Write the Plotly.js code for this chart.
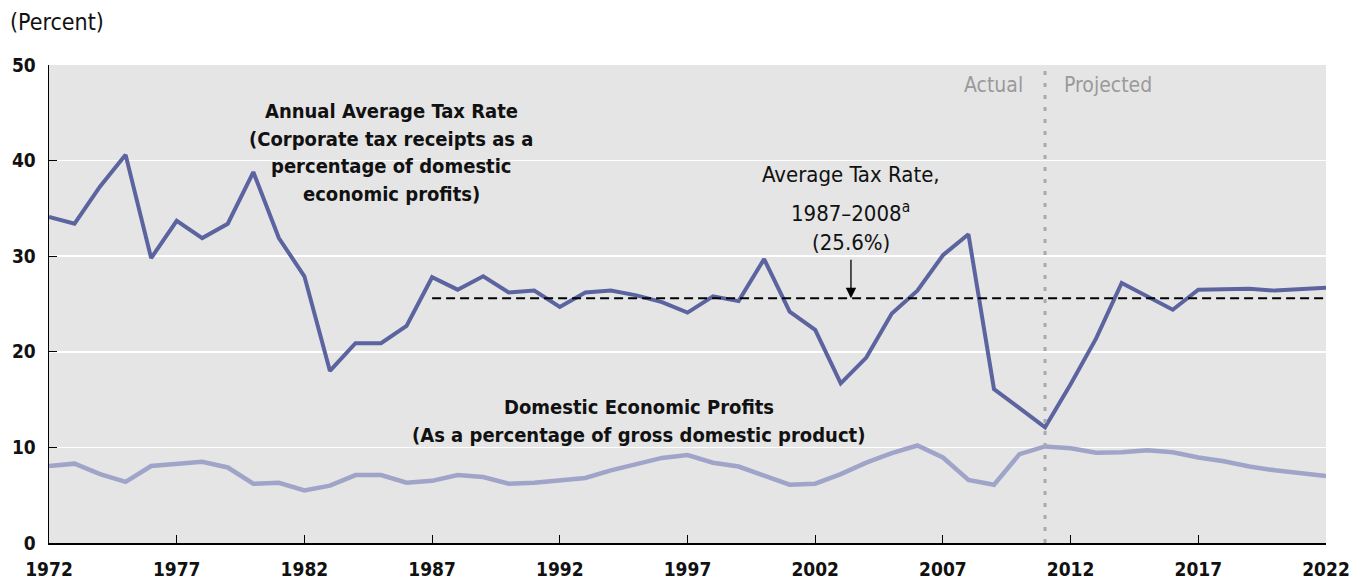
<!DOCTYPE html>
<html>
<head>
<meta charset="utf-8">
<script src="https://cdn.plot.ly/plotly-3.0.1.min.js"></script>
<style>html,body{margin:0;padding:0;background:#fff;}#chart{width:1362px;height:582px;}</style>
</head>
<body>
<div id="chart"></div>
<script>
const years = [1972,1973,1974,1975,1976,1977,1978,1979,1980,1981,1982,1983,1984,1985,1986,1987,1988,1989,1990,1991,1992,1993,1994,1995,1996,1997,1998,1999,2000,2001,2002,2003,2004,2005,2006,2007,2008,2009,2010,2011,2012,2013,2014,2015,2016,2017,2018,2019,2020,2021,2022];
const taxRate = [34.1,33.4,37.3,40.6,29.8,33.7,31.9,33.4,38.8,31.9,27.9,18.0,20.9,20.9,22.7,27.8,26.5,27.9,26.2,26.4,24.7,26.2,26.4,25.9,25.2,24.1,25.8,25.3,29.7,24.2,22.3,16.7,19.4,24.0,26.4,30.1,32.3,16.1,14.1,12.1,16.6,21.4,27.2,25.8,24.4,26.5,26.5,26.6,26.4,26.5,26.7];
const profits = [8.05,8.3,7.2,6.4,8.05,8.3,8.5,7.9,6.2,6.3,5.5,6.0,7.1,7.1,6.3,6.5,7.1,6.9,6.2,6.3,6.5,6.8,7.6,8.3,8.9,9.2,8.4,8.0,7.1,6.1,6.2,7.2,8.4,9.4,10.2,8.95,6.6,6.1,9.3,10.1,9.9,9.45,9.5,9.7,9.5,8.95,8.55,8.0,7.6,7.3,7.0];
const avgYears = [1987, 2022];
const avgRate = [25.6, 25.6];
const tickYears = [1972,1977,1982,1987,1992,1997,2002,2007,2012,2017,2022];
const splitYear = 2011;

const FONT = "'Liberation Sans Narrow', 'DejaVu Sans Condensed', 'Open Sans', sans-serif";

const traces = [
  {x: years, y: profits, type:'scatter', mode:'lines', line:{color:'#a0a4c9', width:4.5}, hoverinfo:'skip'},
  {x: years, y: taxRate, type:'scatter', mode:'lines', line:{color:'#5c64a0', width:4}, hoverinfo:'skip'},
  {x: avgYears, y: avgRate, type:'scatter', mode:'lines', line:{color:'#000', width:2, dash:'9px,5px'}, hoverinfo:'skip'}
];

function ann(text, x, y, opts) {
  return Object.assign({text:text, x:x, y:y, xref:'x', yref:'y', showarrow:false,
    font:{family:FONT, size:20, color:'#111'}, xanchor:'center', yanchor:'middle'}, opts||{});
}
const normalFont = {family:FONT, size:22, color:'#111'};

const annotations = [
  ann('<b>Annual Average Tax Rate</b>', 1985.4, 45.2),
  ann('<b>(Corporate tax receipts as a</b>', 1985.4, 42.3),
  ann('<b>percentage of domestic</b>', 1985.4, 39.4),
  ann('<b>economic profits)</b>', 1985.4, 36.5),
  ann('Average Tax Rate,', 2003.4, 38.5, {font:normalFont}),
  ann('1987–2008<sup>a</sup>', 2003.4, 34.6, {font:normalFont}),
  ann('(25.6%)', 2003.4, 31.4, {font:normalFont}),
  {text:'', x:2003.4, y:25.6, xref:'x', yref:'y', ax:0, ay:-40, showarrow:true, arrowhead:2, arrowsize:1.6, arrowwidth:1.3, arrowcolor:'#000', standoff:0},
  ann('<b>Domestic Economic Profits</b>', 1995.1, 14.2),
  ann('<b>(As a percentage of gross domestic product)</b>', 1995.1, 11.3),
  ann('Actual', 2010.2, 47.9, {xanchor:'right', font:{family:FONT, size:21, color:'#9a9a9a'}}),
  ann('Projected', 2011.65, 47.9, {xanchor:'left', font:{family:FONT, size:21, color:'#9a9a9a'}}),
  {text:'(Percent)', xref:'paper', yref:'paper', x:(8-49)/1277, y:(543-22)/478, xanchor:'left', yanchor:'middle', showarrow:false, font:{family:FONT, size:23, color:'#111'}}
];

const shapes = [
  {type:'rect', xref:'paper', yref:'y', x0:(232-49)/1277, x1:(550-49)/1277, y0:39.8, y1:40.2, fillcolor:'#e5e5e5', line:{width:0}, layer:'between'},
  {type:'line', xref:'x', yref:'paper', x0:splitYear, x1:splitYear, y0:0, y1:1, line:{color:'#aaaaaa', width:3, dash:'4px,8px'}, layer:'above'}
];

const layout = {
  width:1362, height:582,
  margin:{l:49, r:36, t:65, b:39},
  paper_bgcolor:'#ffffff', plot_bgcolor:'#e5e5e5',
  showlegend:false,
  font:{family:FONT, size:18, color:'#111'},
  xaxis:{range:[1972,2022], tickvals:tickYears, ticktext:tickYears.map(String), ticks:'inside', ticklen:8, tickwidth:1, tickcolor:'#000',
    showline:true, linecolor:'#000', linewidth:1.5, showgrid:false, zeroline:false, ticklabelstandoff:9,
    tickfont:{family:FONT, size:19, color:'#111', weight:'bold'}, fixedrange:true},
  yaxis:{range:[0,50], tickvals:[0,10,20,30,40,50], ticks:'inside', ticklen:8, tickwidth:1, tickcolor:'#000',
    showline:true, linecolor:'#000', linewidth:1.5, showgrid:true, gridcolor:'#ffffff', gridwidth:1.5, zeroline:false, ticklabelstandoff:8,
    tickfont:{family:FONT, size:19, color:'#111', weight:'bold'}, fixedrange:true},
  annotations: annotations,
  shapes: shapes
};

Plotly.newPlot('chart', traces, layout, {displayModeBar:false, staticPlot:true});
</script>
</body>
</html>
